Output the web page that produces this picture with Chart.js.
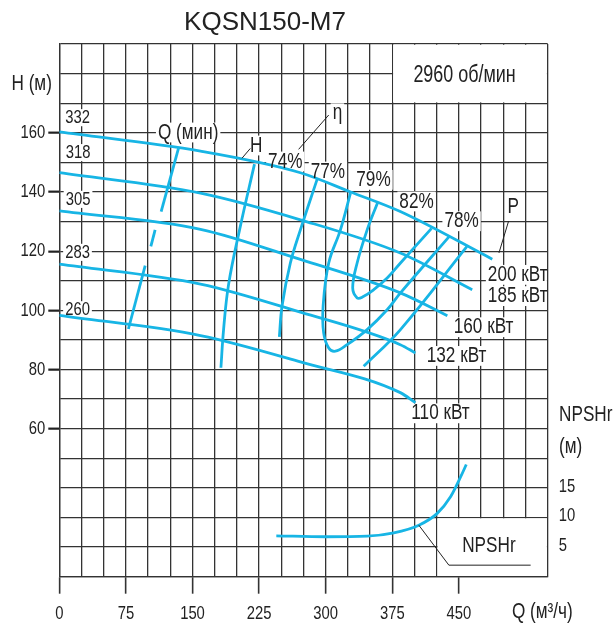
<!DOCTYPE html>
<html>
<head>
<meta charset="utf-8">
<title>KQSN150-M7</title>
<script src="https://cdn.jsdelivr.net/npm/chart.js@4.4.1/dist/chart.umd.min.js"></script>
<style>
  html, body { margin: 0; padding: 0; background: #fff; }
  #wrap { width: 614px; height: 628px; }
</style>
</head>
<body>
<div id="wrap"><canvas id="chart" width="614" height="628"></canvas></div>
<script>
// KQSN150-M7 performance curves, 2960 rpm
const FONT = '"Liberation Sans", Arial, sans-serif';
const SQUEEZE = 0.78;   // narrow lettering, drawn by scaling the regular face
const CYAN = '#17b5e5';
const GRID = '#333';
const INK = '#222';

// H-Q curves per impeller diameter (Q in m3/h, H in m)
const flow332 = [0, 159, 271.5, 328, 384, 487.6];
const head332 = [160.3, 153.8, 146.5, 140.0, 133.4, 117.3];
const flow318 = [0, 159, 271.5, 384, 465];
const head318 = [146.5, 139.6, 130.6, 119.4, 107.0];
const flow305 = [0, 159, 271.5, 384, 437];
const head305 = [133.6, 127.4, 117.2, 105.9, 98.2];
const flow283 = [0, 159, 271.5, 384, 401];
const head283 = [115.6, 108.9, 99.4, 88.4, 85.6];
const flow260 = [0, 159, 271.5, 384, 401];
const head260 = [98.3, 91.5, 82.6, 72.2, 68.8];

// iso-efficiency lines
const eff74Flow = [219.8, 203.0, 190.6, 185.0, 182.0];
const eff74Head = [149.4, 127.2, 108.7, 93.5, 80.6];
const eff77Flow = [290.6, 271.5, 260.2, 250.8, 247.8];
const eff77Head = [144.5, 127.2, 116.0, 101.4, 91.0];
const eff79Flow = [327.9, 316.6, 303.4, 297.1, 297.7, 303.4, 310.9, 324.1, 346.7, 369.2, 384.2, 439.0];
const eff79Head = [139.6, 127.2, 116.0, 101.4, 92.4, 87.3, 86.2, 88.4, 93.5, 100.2, 105.9, 124.9];
const eff82Flow = [358.3, 346.7, 335.4, 330.4, 335.4, 341.4, 354.1, 369.2, 384.2, 419.2];
const eff82Head = [136.3, 127.2, 116.0, 107.6, 104.2, 104.5, 107.0, 110.9, 116.0, 127.7];
const eff78Flow = [342.8, 384.2, 458.9];
const eff78Head = [81.1, 93.5, 121.5];

// minimum flow marks
const qmin1Flow = [134.2, 114.7];
const qmin1Head = [154.7, 133.4];
const qmin2Flow = [107.9, 103.1];
const qmin2Head = [127.2, 121.6];
const qmin3Flow = [96.7, 77.8];
const qmin3Head = [115.1, 93.7];

// NPSHr curve (m, right axis)
const npshFlow = [244.4, 300, 346.7, 376.7, 404.9, 425.6, 440.6, 451.9, 458.3];
const npshValue = [6.9, 6.75, 6.85, 7.4, 8.7, 10.7, 13.5, 16.85, 18.95];

// axis ticks
const flowTicks = [0, 75, 150, 225, 300, 375, 450];
const headTicks = [60, 80, 100, 120, 140, 160];
const npshTicks = [5, 10, 15];

// captions inside the grid: text, Q, H, font size
const captions = [
  ['332', 20.5, 165.1, 19], ['318', 21.1, 153.3, 19], ['305', 21.1, 137.5, 19],
  ['283', 20.5, 119.6, 19], ['260', 20.5, 100.2, 19],
  ['Q (мин)', 145.1, 160.1, 22], ['H', 221.8, 155.7, 22], ['η', 313.2, 166.6, 22],
  ['74%', 254.5, 150.3, 22], ['77%', 302.5, 146.9, 22], ['79%', 353.8, 144.1, 22],
  ['82%', 402.3, 136.8, 22], ['78%', 453.0, 130.1, 22], ['P', 511.1, 135.1, 22],
  ['200 кВт', 516.2, 112.0, 22], ['185 кВт', 516.2, 104.8, 22], ['160 кВт', 477.8, 94.3, 22],
  ['132 кВт', 447.4, 84.6, 22], ['110 кВт', 429.3, 65.2, 22],
  ['2960 об/мин', 456.4, 179.4, 23], ['NPSHr', 483.8, 20.4, 22]
];
// text outside the grid: text, Q, H, font size, align
const outerText = [
  ['H (м)', -31.1, 176.4, 22, 'center'],
  ['NPSHr', 562.8, 64.8, 22, 'left'],
  ['(м)', 562.8, 53.9, 22, 'left'],
  ['Q (м³/ч)', 544, -2.0, 22, 'center']
];
// leader lines, [Q, H] pairs
const leaders = [
  [[205.7, 151.4], [215.1, 154.7]],
  [[269.5, 154.4], [303.4, 166.0]],
  [[495.1, 119.4], [506.0, 130.2]],
  [[404.9, 27.4], [438.7, 13.9], [530.8, 13.9]]
];

const pts = (xs, ys) => xs.map((q, i) => ({ x: q, y: ys[i] }));

function curve(xs, ys, smooth, axis) {
  return {
    data: pts(xs, ys),
    yAxisID: axis || 'y',
    borderColor: CYAN,
    borderWidth: 2.8,
    pointRadius: 0,
    fill: false,
    tension: smooth === 'loop' ? 0.4 : 0,
    cubicInterpolationMode: smooth === 'mono' ? 'monotone' : 'default'
  };
}

function narrowText(ctx, text, px, py, size, align) {
  ctx.save();
  ctx.font = size + 'px ' + FONT;
  ctx.textAlign = align || 'center';
  ctx.textBaseline = 'middle';
  ctx.translate(px, py);
  ctx.scale(SQUEEZE, 1);
  ctx.fillText(text, 0, 0);
  ctx.restore();
}

function backing(ctx, text, px, py, size) {
  ctx.font = size + 'px ' + FONT;
  const w = ctx.measureText(text).width * SQUEEZE;
  ctx.fillRect(px - w / 2 - 2, py - size * 0.45, w + 4, size * 0.9);
}

const annotate = {
  id: 'annotate',
  beforeDatasetsDraw(chart) {
    const { ctx, chartArea: a } = chart;
    const sx = chart.scales.x, sy = chart.scales.y;
    ctx.save();
    ctx.beginPath();
    ctx.rect(a.left + 0.8, a.top + 0.8, a.right - a.left - 1.6, a.bottom - a.top - 1.6);
    ctx.clip();
    ctx.fillStyle = '#fff';
    // blank panels: speed note and NPSHr caption
    const x375 = sx.getPixelForValue(375), x425 = sx.getPixelForValue(425);
    ctx.fillRect(x375 + 0.8, a.top, a.right - x375, sy.getPixelForValue(170) - a.top - 0.8);
    ctx.fillRect(x425 + 0.8, sy.getPixelForValue(30) + 0.8, a.right - x425, a.bottom);
    captions.forEach(([t, q, h, s]) => backing(ctx, t, sx.getPixelForValue(q), sy.getPixelForValue(h), s));
    ctx.restore();
  },
  afterDatasetsDraw(chart) {
    const { ctx, chartArea: a } = chart;
    const sx = chart.scales.x, sy = chart.scales.y, sn = chart.scales.y2;
    ctx.save();
    ctx.strokeStyle = INK;
    ctx.lineWidth = 1;
    leaders.forEach(line => {
      ctx.beginPath();
      line.forEach(([q, h], i) => {
        const px = sx.getPixelForValue(q), py = sy.getPixelForValue(h);
        i ? ctx.lineTo(px, py) : ctx.moveTo(px, py);
      });
      ctx.stroke();
    });
    ctx.fillStyle = INK;
    captions.forEach(([t, q, h, s]) => narrowText(ctx, t, sx.getPixelForValue(q), sy.getPixelForValue(h), s));
    outerText.forEach(([t, q, h, s, al]) => narrowText(ctx, t, sx.getPixelForValue(q), sy.getPixelForValue(h), s, al));

    // tick labels
    headTicks.forEach(v => narrowText(ctx, String(v), a.left - 14, sy.getPixelForValue(v), 19, 'right'));
    flowTicks.forEach(v => narrowText(ctx, String(v), sx.getPixelForValue(v), 614, 19));
    npshTicks.forEach(v => narrowText(ctx, String(v), a.right + 11, sn.getPixelForValue(v) - 1.5, 19, 'left'));

    ctx.font = '26px ' + FONT;
    ctx.textAlign = 'center';
    ctx.textBaseline = 'middle';
    ctx.fillText('KQSN150-M7', 265, 23);
    ctx.restore();
  }
};

new Chart(document.getElementById('chart'), {
  type: 'line',
  data: {
    datasets: [
      curve(flow332, head332, 'mono'),
      curve(flow318, head318, 'mono'),
      curve(flow305, head305, 'mono'),
      curve(flow283, head283, 'mono'),
      curve(flow260, head260, 'mono'),
      curve(eff74Flow, eff74Head, 'loop'),
      curve(eff77Flow, eff77Head, 'loop'),
      curve(eff79Flow, eff79Head, 'loop'),
      curve(eff82Flow, eff82Head, 'loop'),
      curve(eff78Flow, eff78Head, 'loop'),
      curve(qmin1Flow, qmin1Head),
      curve(qmin2Flow, qmin2Head),
      curve(qmin3Flow, qmin3Head),
      curve(npshFlow, npshValue, 'mono', 'y2')
    ]
  },
  options: {
    responsive: false,
    animation: false,
    devicePixelRatio: 1,
    layout: { padding: { top: 44, left: 0, right: 0, bottom: 0 } },
    plugins: { legend: { display: false }, tooltip: { enabled: false } },
    scales: {
      x: {
        type: 'linear', min: 0, max: 550,
        ticks: { stepSize: 25, autoSkip: false, maxRotation: 0, display: false },
        grid: {
          color: GRID, lineWidth: 1.3, tickLength: 17, tickWidth: 1.6,
          tickColor: c => (c.tick && flowTicks.includes(c.tick.value)) ? GRID : 'rgba(0,0,0,0)'
        },
        border: { color: GRID, width: 1.3 },
        afterFit: s => { s.height = 51.3; }
      },
      y: {
        type: 'linear', min: 10, max: 190,
        ticks: { stepSize: 10, autoSkip: false, display: false },
        grid: {
          color: GRID, lineWidth: 1.3, tickLength: 11, tickWidth: 2.2,
          tickColor: c => (c.tick && headTicks.includes(c.tick.value)) ? INK : 'rgba(0,0,0,0)'
        },
        border: { color: GRID, width: 1.3 },
        afterFit: s => { s.width = 59.3; }
      },
      y2: {
        type: 'linear', position: 'right', min: 0, max: 90,
        ticks: { stepSize: 5, display: false },
        grid: { drawOnChartArea: false, drawTicks: false },
        border: { display: false },
        afterFit: s => { s.width = 66.3; }
      }
    }
  },
  plugins: [annotate]
});
</script>
</body>
</html>
